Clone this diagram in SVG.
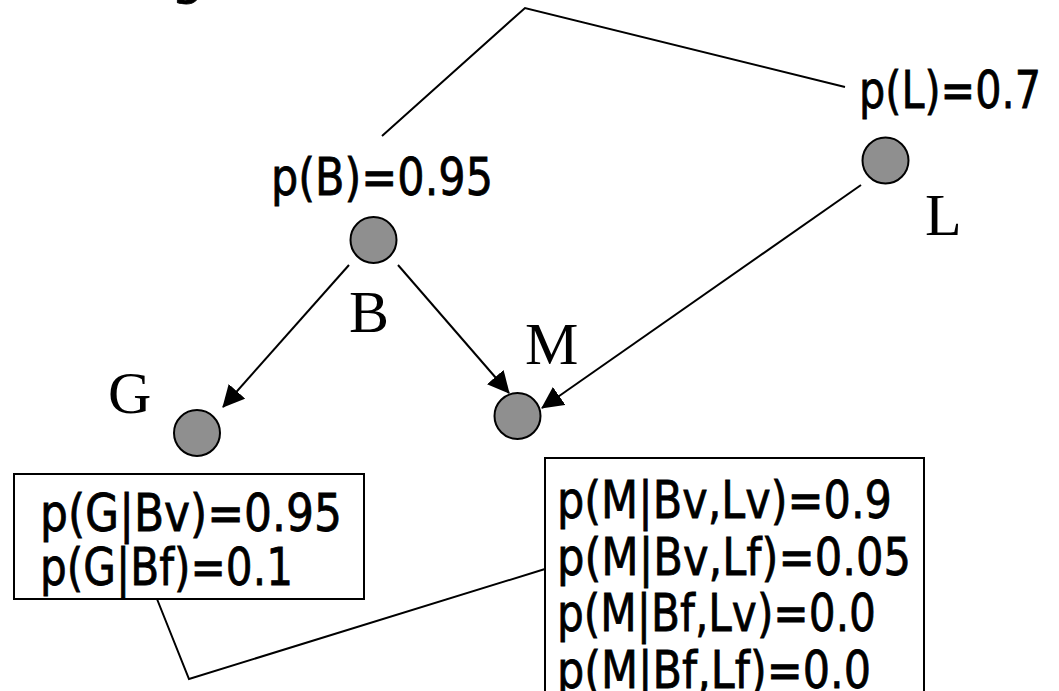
<svg xmlns="http://www.w3.org/2000/svg" width="1059" height="691" viewBox="0 0 1059 691">
<style>
.node{fill:#8f8f8f;stroke:#000;stroke-width:2}
.lbl{font-family:"Liberation Serif","Times New Roman",serif;font-size:60px;fill:#000}
.sans{font-family:"DejaVu Sans","Liberation Sans",sans-serif;font-size:52px;fill:#000;stroke:#000;stroke-width:0.8}
.box{fill:#fff;stroke:#000;stroke-width:2}
.con{fill:none;stroke:#000;stroke-width:2}
</style>
<defs>
<marker id="ah" viewBox="0 0 22 22" refX="21" refY="11" markerWidth="22" markerHeight="22" markerUnits="userSpaceOnUse" orient="auto">
<path d="M0,0 L22,11 L0,22 z" fill="#000"/>
</marker>
</defs>
<rect width="1059" height="691" fill="#fff"/>
<text class="sans" x="171" y="-7">g</text>
<g id="connectors">
<polyline class="con" points="382,136 525,8 845,87"/>
<polyline class="con" points="157,599 189,679 545,569"/>
<line class="con" x1="349" y1="265" x2="223" y2="407" marker-end="url(#ah)"/>
<line class="con" x1="398" y1="265" x2="509" y2="393" marker-end="url(#ah)"/>
<line class="con" x1="861" y1="185" x2="542" y2="408" marker-end="url(#ah)"/>
</g>
<g id="node-B">
<circle class="node" cx="373.5" cy="240" r="23"/>
<text class="lbl" x="349" y="332">B</text>
<text class="sans" x="271" y="195" textLength="222" lengthAdjust="spacingAndGlyphs">p(B)=0.95</text>
</g>
<g id="node-L">
<circle class="node" cx="885.5" cy="160.5" r="23"/>
<text class="lbl" x="925" y="235">L</text>
<text class="sans" x="859" y="108" textLength="182" lengthAdjust="spacingAndGlyphs">p(L)=0.7</text>
</g>
<g id="node-G">
<circle class="node" cx="197" cy="433" r="23"/>
<text class="lbl" x="108" y="413">G</text>
</g>
<g id="node-M">
<circle class="node" cx="517.5" cy="416" r="23"/>
<text class="lbl" x="525" y="364">M</text>
</g>
<g id="table-G">
<rect class="box" x="14" y="474" width="350" height="125"/>
<text class="sans" x="40" y="531" textLength="302" lengthAdjust="spacingAndGlyphs">p(G|Bv)=0.95</text>
<text class="sans" x="40" y="585" textLength="253" lengthAdjust="spacingAndGlyphs">p(G|Bf)=0.1</text>
</g>
<g id="table-M">
<rect class="box" x="545" y="458" width="379" height="250"/>
<text class="sans" x="557" y="518" textLength="335" lengthAdjust="spacingAndGlyphs">p(M|Bv,Lv)=0.9</text>
<text class="sans" x="557" y="575" textLength="354" lengthAdjust="spacingAndGlyphs">p(M|Bv,Lf)=0.05</text>
<text class="sans" x="557" y="631" textLength="319" lengthAdjust="spacingAndGlyphs">p(M|Bf,Lv)=0.0</text>
<text class="sans" x="557" y="688" textLength="314" lengthAdjust="spacingAndGlyphs">p(M|Bf,Lf)=0.0</text>
</g>
</svg>
